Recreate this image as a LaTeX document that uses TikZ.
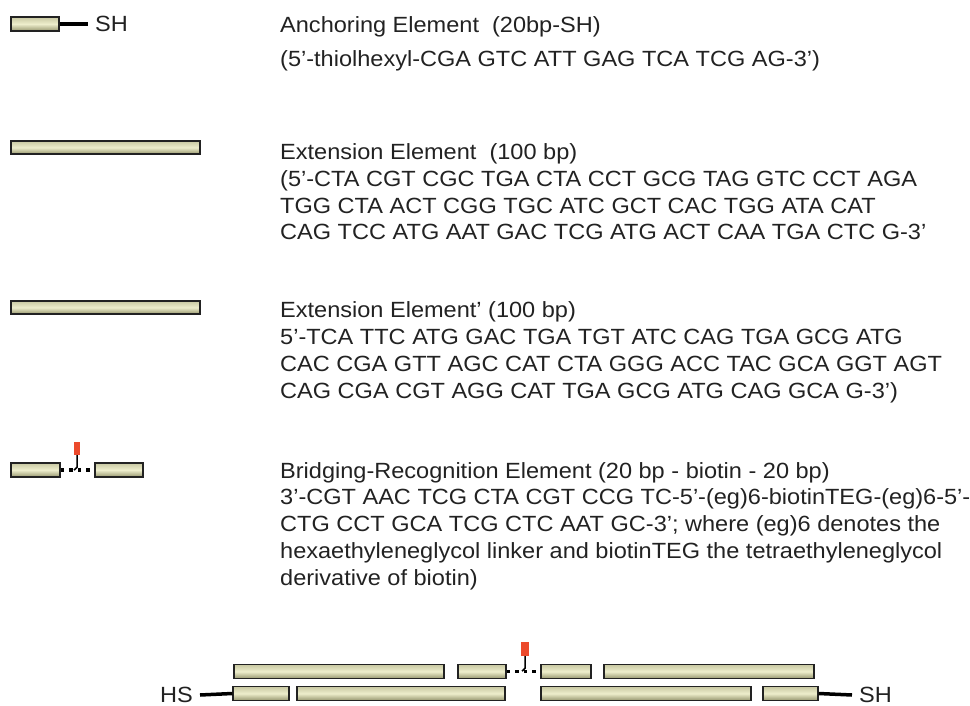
\documentclass[tikz,border=0pt]{standalone}
\usepackage{fontspec}
\setmainfont{Liberation Sans}[FakeStretch=1.07]
\usepackage{xcolor}
\usetikzlibrary{positioning}

\definecolor{bartop}{RGB}{200,200,162}
\definecolor{barmid}{RGB}{238,238,204}
\definecolor{barbot}{RGB}{150,150,110}
\definecolor{biored}{RGB}{236,74,44}
\definecolor{ink}{RGB}{34,34,34}

\begin{document}
\begin{tikzpicture}[x=1pt,y=-1pt,
    strand/.style={draw=ink,line width=1.1pt,rectangle,inner sep=0pt,minimum height=14pt,
      top color=bartop,bottom color=barbot,middle color=barmid},
    biotin/.style={fill=biored,draw=none,rectangle,inner sep=0pt,minimum width=6pt,minimum height=13pt},
    thiol/.style={line width=3.5pt,draw=black},
    linker/.style={line width=3.5pt,draw=black,dash pattern=on 3.5pt off 5pt},
    stem/.style={line width=1.5pt,draw=black},
    label/.style={inner sep=0pt,inner xsep=7pt,text=ink,font=\fontsize{22pt}{26.7pt}\selectfont},
    desc/.style={inner sep=0pt,text=ink,align=left,anchor=base west,
      font=\fontsize{22pt}{26.7pt}\selectfont}]
    \useasboundingbox[fill=white] (0,0) rectangle (970,706);

    % anchoring element
    \node[strand,minimum width=48pt] (anc) at (35,24) {};
    \node[label,anchor=west] (ancsh) at (88,24) {SH};
    \draw[thiol] (anc.east) -- (ancsh.west);
    \node[desc] (anctitle) at (280,33) {Anchoring Element\ \ (20bp-SH)};
    \node[desc] (ancseq) at (280,67) {(5'-thiolhexyl-CGA GTC ATT GAG TCA TCG AG-3')};

    % extension elements (base of a block = its last line)
    \node[strand,minimum width=189pt,minimum height=13pt] (ext) at (105.5,147.5) {};
    \node[desc] (exttext) at (280,240) {Extension Element\ \ (100 bp)\\
      (5'-CTA CGT CGC TGA CTA CCT GCG TAG GTC CCT AGA\\
      TGG CTA ACT CGG TGC ATC GCT CAC TGG ATA CAT\\
      CAG TCC ATG AAT GAC TCG ATG ACT CAA TGA CTC G-3'};
    \node[strand,minimum width=189pt,minimum height=13pt] (extp) at (105.5,307.5) {};
    \node[desc] (extptext) at (280,398) {Extension Element' (100 bp)\\
      5'-TCA TTC ATG GAC TGA TGT ATC CAG TGA GCG ATG\\
      CAC CGA GTT AGC CAT CTA GGG ACC TAC GCA GGT AGT\\
      CAG CGA CGT AGG CAT TGA GCG ATG CAG GCA G-3')};

    % bridging-recognition element
    \node[strand,minimum width=49pt] (brl) at (35.5,470) {};
    \node[strand,minimum width=48pt] (brr) at (119,470) {};
    \node[biotin] (brbio) at (77,448.5) {};
    \draw[linker] (brl.east) -- (brr.west);
    \draw[stem] (brbio.south) -- ++(0,12) -- ++(-3,3);
    \node[desc] (brtext) at (280,585) {Bridging-Recognition Element (20 bp - biotin - 20 bp)\\
      3'-CGT AAC TCG CTA CGT CCG TC-5'-(eg)6-biotinTEG-(eg)6-5'-\\
      CTG CCT GCA TCG CTC AAT GC-3'; where (eg)6 denotes the\\
      hexaethyleneglycol linker and biotinTEG the tetraethyleneglycol\\
      derivative of biotin)};

    % assembled bridge
    \node[strand,minimum width=210pt] (top1) at (339,671.5) {};
    \node[strand,minimum width=48pt] (top2) at (482,671.5) {};
    \node[strand,minimum width=50pt] (top3) at (566,671.5) {};
    \node[strand,minimum width=210pt] (top4) at (709,671.5) {};
    \node[biotin,minimum width=8pt,minimum height=14pt] (topbio) at (525,649) {};
    \draw[linker] (top2.east) -- (top3.west);
    \draw[stem] (topbio.south) -- ++(0,12) -- ++(-3,3);
    \node[strand,minimum width=56pt] (bot1) at (261,693.5) {};
    \node[strand,minimum width=208pt] (bot2) at (401,693.5) {};
    \node[strand,minimum width=210pt] (bot3) at (646,693.5) {};
    \node[strand,minimum width=55pt] (bot4) at (790.5,693.5) {};
    \node[label,anchor=east] (hs) at (200,695) {HS};
    \node[label,anchor=west] (sh) at (852,695) {SH};
    \draw[thiol] (hs.east) -- (bot1.west);
    \draw[thiol] (bot4.east) -- (sh.west);
\end{tikzpicture}
\end{document}
